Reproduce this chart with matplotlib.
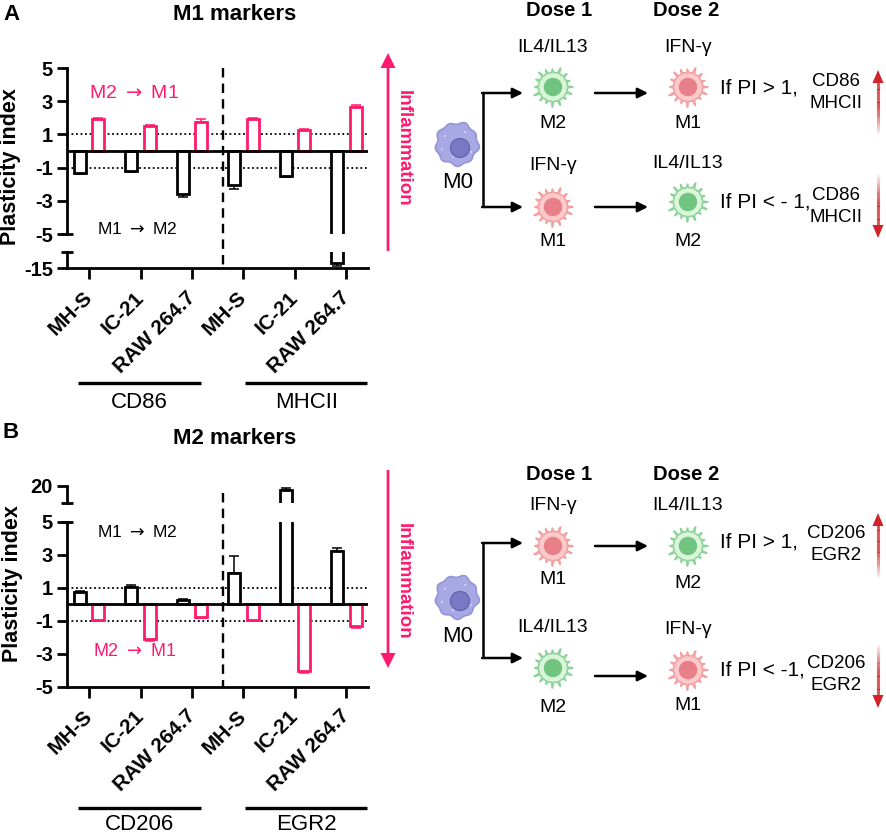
import numpy as np
import matplotlib
matplotlib.use('Agg')
import matplotlib.pyplot as plt
import matplotlib.transforms as mtrans
from matplotlib.patches import Polygon, Circle, FancyArrow
from matplotlib.collections import LineCollection

plt.rcParams['font.family'] = ['Liberation Sans', 'DejaVu Sans']
plt.rcParams['mathtext.fontset'] = 'dejavusans'

W, H = 886, 836
PINK = '#ff1a6e'
RED = '#d2232a'

cells = ['MH-S', 'IC-21', 'RAW 264.7']
markers_a = ['CD86', 'MHCII']
markers_b = ['CD206', 'EGR2']

# panel A - M1 markers (black = M1 -> M2, pink = M2 -> M1)
a_black = [-1.34, -1.2, -2.6, -2.04, -1.48, -14.4]
a_black_err = [0.05, 0.05, 0.2, 0.22, 0.1, 0.3]
a_pink = [1.92, 1.5, 1.75, 1.92, 1.26, 2.66]
a_pink_err = [0.04, 0.04, 0.15, 0.05, 0.04, 0.12]

# panel B - M2 markers (black = M1 -> M2, pink = M2 -> M1)
b_black = [0.73, 1.07, 0.27, 1.88, 18.8, 3.25]
b_black_err = [0.05, 0.12, 0.05, 1.07, 0.5, 0.17]
b_pink = [-0.97, -2.12, -0.78, -0.95, -4.06, -1.35]
b_pink_err = [0.04, 0.08, 0.08, 0.04, 0.12, 0.1]

main_ticks = [5, 3, 1, -1, -3, -5]
ARROW = r'$\rightarrow$'

fig = plt.figure(figsize=(W / 100, H / 100), dpi=100)

# overlay in pixel units for the schematic parts
ov = fig.add_axes([0, 0, 1, 1], zorder=-1)
ov.set_xlim(0, W)
ov.set_ylim(H, 0)
ov.axis('off')

X0, X1 = 67, 368  # axes left/right in px


def add_ax(y0, y1):
    return fig.add_axes([X0 / W, 1 - y1 / H, (X1 - X0) / W, (y1 - y0) / H])


def style(ax, bottom=False):
    for s in ['top', 'right']:
        ax.spines[s].set_visible(False)
    ax.spines['left'].set_linewidth(2)
    ax.spines['bottom'].set_linewidth(2)
    ax.spines['bottom'].set_visible(bottom)
    ax.set_xlim(-0.43, 5.42)
    ax.tick_params(axis='y', length=7, width=2, pad=3, labelsize=14.5)
    ax.patch.set_alpha(0)
    if bottom:
        ax.tick_params(axis='x', length=8, width=2, pad=11)
        ax.set_xticks(range(6))
        ax.set_xticklabels(cells * 2, rotation=45, ha='right', va='center',
                           rotation_mode='anchor', fontsize=15, fontweight='bold')
    else:
        ax.set_xticks([])


def cap(ax, y):
    d = 6 / (X1 - X0)
    tr = mtrans.blended_transform_factory(ax.transAxes, ax.transData)
    ax.plot([-d, d], [y, y], color='black', lw=2, transform=tr, clip_on=False,
            solid_capstyle='butt')


def draw_bars(ax, black, berr, pink, perr):
    x = np.arange(6)
    for vals, errs, col, off in [(black, berr, 'black', -0.18), (pink, perr, PINK, 0.18)]:
        vals = np.array(vals)
        errs = np.array(errs)
        ax.bar(x + off, vals, width=0.23, facecolor='white', edgecolor=col,
               linewidth=2, zorder=3)
        lo = np.where(vals < 0, errs, 0)
        hi = np.where(vals > 0, errs, 0)
        ax.errorbar(x + off, vals, yerr=[lo, hi], fmt='none', ecolor=col,
                    elinewidth=1.1, capsize=3.5, capthick=1.1, zorder=2)


def guides(ax):
    ax.axhline(0, color='black', lw=2, zorder=4)
    for v in (1, -1):
        ax.axhline(v, color='black', lw=1.3, ls=(0, (1, 1.5)), zorder=1)


def dashed(ax, top_px, bot_px, ax_top, ax_bot):
    tr = mtrans.blended_transform_factory(ax.transData, ax.transAxes)
    f = lambda p: (ax_bot - p) / (ax_bot - ax_top)
    ax.plot([2.6, 2.6], [f(top_px), f(bot_px)], color='black', lw=1.7,
            ls=(0, (4, 2.6)), transform=tr, clip_on=False, zorder=5)


def groups(ax, labels, y_line, y_text, ax_top, ax_bot):
    tr = mtrans.blended_transform_factory(ax.transData, ax.transAxes)
    f = lambda p: (ax_bot - p) / (ax_bot - ax_top)
    for (a, b), lab in zip([(-0.21, 2.17), (3.03, 5.41)], labels):
        ax.plot([a, b], [f(y_line), f(y_line)], color='black', lw=2.4,
                transform=tr, clip_on=False, solid_capstyle='butt')
        ax.text((a + b) / 2, f(y_text), lab, transform=tr, ha='center',
                va='center', fontsize=16)


# ---------------- panel A ----------------
axA = add_ax(68, 234)
axA_lo = add_ax(252, 268)
for ax in (axA, axA_lo):
    draw_bars(ax, a_black, a_black_err, a_pink, a_pink_err)
style(axA)
style(axA_lo, bottom=True)
guides(axA)
axA.set_ylim(-5, 5)
axA.set_yticks(main_ticks, [str(t) for t in main_ticks], fontweight='bold')
axA_lo.set_ylim(-15, -13)
axA_lo.set_yticks([-15], ['-15'], fontweight='bold')
cap(axA, -5)
cap(axA_lo, -13)
dashed(axA, 68, 268, 68, 234)
groups(axA_lo, markers_a, 383, 402, 252, 268)

# ---------------- panel B ----------------
axB_hi = add_ax(485.7, 503.3)
axB = add_ax(521.7, 686.7)
for ax in (axB_hi, axB):
    draw_bars(ax, b_black, b_black_err, b_pink, b_pink_err)
style(axB_hi)
style(axB, bottom=True)
guides(axB)
axB.set_ylim(-5, 5)
axB.set_yticks(main_ticks, [str(t) for t in main_ticks], fontweight='bold')
axB_hi.set_ylim(15, 20)
axB_hi.set_yticks([20], ['20'], fontweight='bold')
cap(axB, 5)
cap(axB_hi, 15)
dashed(axB, 493, 686.7, 521.7, 686.7)
groups(axB, markers_b, 807.7, 825, 521.7, 686.7)

# ---------------- chart labels ----------------
ov.text(3, 15, 'A', fontsize=16, fontweight='bold', va='center')
ov.text(3, 432, 'B', fontsize=16, fontweight='bold', va='center')
ov.text(235, 15, 'M1 markers', fontsize=16, fontweight='bold', ha='center', va='center')
ov.text(235, 438, 'M2 markers', fontsize=16, fontweight='bold', ha='center', va='center')
ov.text(11, 167, 'Plasticity index', fontsize=15.5, fontweight='bold', rotation=90,
        ha='center', va='center')
ov.text(13, 584, 'Plasticity index', fontsize=15.5, fontweight='bold', rotation=90,
        ha='center', va='center')
ov.text(134, 93, f'M2 {ARROW} M1', color=PINK, fontsize=14, ha='center', va='center')
ov.text(137, 229, f'M1 {ARROW} M2', fontsize=12.5, ha='center', va='center')
ov.text(137, 532, f'M1 {ARROW} M2', fontsize=12.5, ha='center', va='center')
ov.text(135, 652, f'M2 {ARROW} M1', color=PINK, fontsize=13, ha='center', va='center')

# inflammation arrows
ov.add_patch(FancyArrow(388, 251, 0, 53 - 251, width=2.7, head_width=15, head_length=15,
                        length_includes_head=True, color=PINK, lw=0))
ov.text(403, 148, 'Inflammation', color=PINK, fontsize=13.5, fontweight='bold',
        rotation=270, ha='center', va='center')
ov.add_patch(FancyArrow(388, 470, 0, 668 - 470, width=2.7, head_width=15, head_length=15,
                        length_includes_head=True, color=PINK, lw=0))
ov.text(403, 581, 'Inflammation', color=PINK, fontsize=13.5, fontweight='bold',
        rotation=270, ha='center', va='center')


# ---------------- schematic ----------------
def cell(cx, cy, kind):
    t = np.linspace(0, 2 * np.pi, 800)
    if kind == 'M0':
        r = 21 * (1 + 0.05 * np.sin(9 * t) + 0.03 * np.sin(5 * t + 1))
        fill, edge, nuc, nedge = '#a8a8e4', '#9494d6', '#7878c4', '#6666b0'
        nr, nx, ny = 9.5, cx + 3, cy + 4
    else:
        spikes = np.maximum(0, np.cos(16 * t + 0.5 * np.sin(3 * t))) ** 5
        r = 14.5 * (1 + 0.42 * spikes * (0.75 + 0.25 * np.sin(5 * t + 0.7)))
        if kind == 'M2':
            fill, edge, nuc, nedge = '#daf5da', '#8ed49a', '#70c47f', '#70c47f'
        else:
            fill, edge, nuc, nedge = '#fccaca', '#f2a0a0', '#e8808a', '#e8808a'
        nr, nx, ny = 8.5, cx, cy
    pts = np.column_stack([cx + r * np.cos(t), cy + r * np.sin(t)])
    ov.add_patch(Polygon(pts, closed=True, facecolor=fill, edgecolor=edge, lw=1.2))
    ov.add_patch(Circle((nx, ny), nr, facecolor=nuc, edgecolor=nedge, lw=1))
    if kind == 'M0':
        for dx, dy in [(-12, -8), (8, -12), (-4, 13), (14, 8), (-15, 5)]:
            ov.add_patch(Circle((cx + dx, cy + dy), 1, color='#d8d8f4', lw=0))


def arrow(x0, y0, x1, y1):
    ov.annotate('', xy=(x1, y1), xytext=(x0, y0),
                arrowprops=dict(arrowstyle='-|>', color='black', lw=1.8,
                                mutation_scale=15, shrinkA=0, shrinkB=0))


def fade_arrow(x, tip, tail):
    sgn = 1 if tail > tip else -1
    hl, hw = 13, 5.5
    ov.add_patch(Polygon([[x, tip], [x - hw, tip + sgn * hl], [x + hw, tip + sgn * hl]],
                         closed=True, color=RED, lw=0))
    ys = np.linspace(tip + sgn * (hl - 1), tail, 50)
    segs = [[[x, ys[i]], [x, ys[i + 1]]] for i in range(len(ys) - 1)]
    u = np.linspace(0, 1, len(segs))
    alphas = np.clip((1 - u) / 0.55, 0, 1)
    cols = [(0.82, 0.14, 0.16, a) for a in alphas]
    ov.add_collection(LineCollection(segs, colors=cols, linewidths=2.2))


def scheme(y_dose, top, bot, rows, markers, m0_y):
    ov.text(559, y_dose, 'Dose 1', fontsize=14.5, fontweight='bold', ha='center', va='center')
    ov.text(686, y_dose, 'Dose 2', fontsize=14.5, fontweight='bold', ha='center', va='center')
    cell(457, m0_y, 'M0')
    ov.text(458, m0_y + 39, 'M0', fontsize=16, ha='center', va='center')
    ov.plot([483, 483], [top, bot], color='black', lw=1.8, solid_capstyle='butt')
    arrow(482.1, top, 523, top)
    arrow(482.1, bot, 523, bot)
    for r in rows:
        (t1, ty1, k1, cy1, ly1, t2, ty2, k2, cy2, ly2, ay, pi_text, pi_y, mk_y, arrow_tip, arrow_tail) = r
        ov.text(553, ty1, t1, fontsize=14, ha='center', va='center')
        cell(553, cy1, k1)
        ov.text(553, ly1, k1, fontsize=14, ha='center', va='center')
        ov.text(688, ty2, t2, fontsize=14, ha='center', va='center')
        cell(688, cy2, k2)
        ov.text(688, ly2, k2, fontsize=14, ha='center', va='center')
        arrow(595, ay, 648, ay)
        ov.text(720, pi_y, pi_text, fontsize=15, ha='left', va='center')
        ov.text(836, mk_y - 11, markers[0], fontsize=13.5, ha='center', va='center')
        ov.text(836, mk_y + 11, markers[1], fontsize=13.5, ha='center', va='center')
        fade_arrow(878, arrow_tip, arrow_tail)


scheme(11, 93, 207, [
    ('IL4/IL13', 47, 'M2', 87, 124, 'IFN-γ', 47, 'M1', 87, 124, 93, 'If PI > 1,', 88, 93, 70, 135),
    ('IFN-γ', 166, 'M1', 207, 242, 'IL4/IL13', 163, 'M2', 202, 242, 207, 'If PI < - 1,', 202, 206, 238, 173),
], markers_a, 144)

scheme(475, 543, 658, [
    ('IFN-γ', 505, 'M1', 546, 580, 'IL4/IL13', 505, 'M2', 546, 583, 546, 'If PI > 1,', 542, 545, 513, 579),
    ('IL4/IL13', 628, 'M2', 668, 707, 'IFN-γ', 630, 'M1', 670, 705, 676, 'If PI < -1,', 670, 674, 708, 643),
], markers_b, 597)

fig.savefig('out.png', dpi=100)
